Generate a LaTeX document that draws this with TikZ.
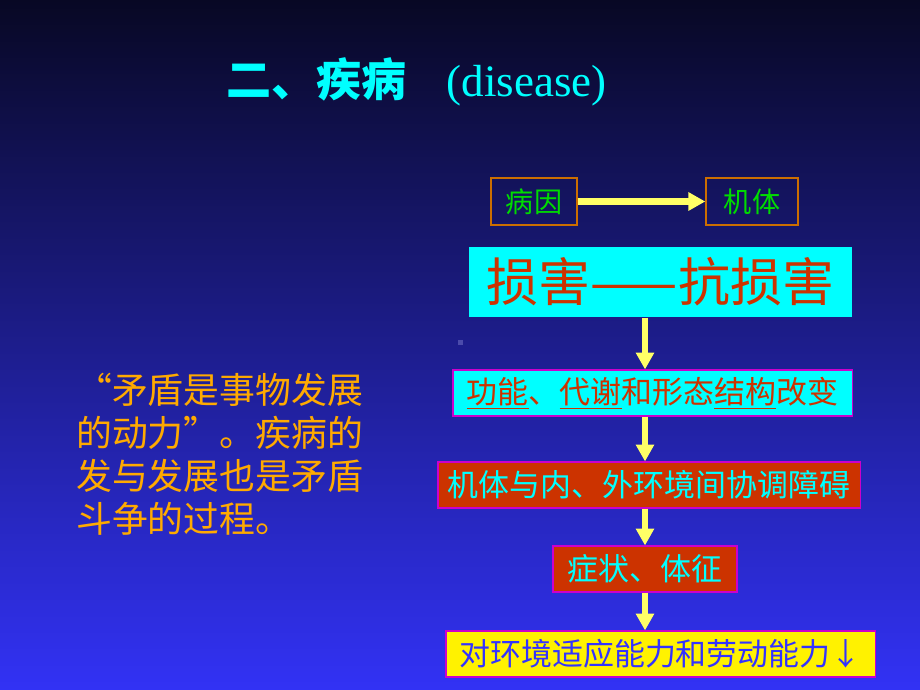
\documentclass[tikz,border=0pt]{standalone}
\usepackage{fontspec}
\setmainfont{Liberation Serif}
\newfontfamily\cjk{Noto Sans CJK SC}
\usepackage{tikz}
\usetikzlibrary{arrows.meta,positioning}
\usepackage{xcolor}
\definecolor{dftop}{RGB}{8,8,36}
\definecolor{dfmid}{RGB}{30,30,150}
\definecolor{dfbottom}{RGB}{50,50,245}
\definecolor{dfcyan}{RGB}{0,255,255}
\definecolor{dfgreen}{RGB}{0,220,0}
\definecolor{dforange}{RGB}{204,110,0}
\definecolor{dfyellow}{RGB}{255,255,102}
\definecolor{dfred}{RGB}{204,51,0}
\definecolor{dfmagenta}{RGB}{204,0,204}
\definecolor{dfblue}{RGB}{51,51,255}
\definecolor{dfgold}{RGB}{255,170,0}
\tikzstyle{arrow} = [line width=4.3pt,-{Triangle[width=12.5pt,length=12pt]},color=dfyellow]
\tikzstyle{causebox} = [rectangle, draw=dforange, line width=1pt, minimum height=1.175cm, inner sep=0pt, text=dfgreen, font=\cjk\fontsize{20}{24}\selectfont]
\tikzstyle{stagebox} = [rectangle, draw=dfmagenta, line width=0.8pt, minimum height=1.15cm, inner sep=0pt, font=\cjk\fontsize{22}{26}\selectfont]

\begin{document}
\begin{tikzpicture}[x=0.025cm, y=-0.025cm]
    \useasboundingbox (0,0) rectangle (920,690);
    % Background
    \shade[top color=dftop, middle color=dfmid, bottom color=dfbottom] (0,0) rectangle (920,690);
    \fill[color=dfmid!80!white] (458,340) rectangle (463,345);

    % Title
    \node[anchor=base west, inner sep=0pt, text=dfcyan, font=\fontsize{32}{36}\selectfont] (title) at (226,97) {{\cjk\bfseries 二、疾病}\hspace{0.9em}(disease)};

    % Cause boxes
    \node[causebox, minimum width=2.15cm] (cause) at (534,201.5) {病因};
    \node[causebox, minimum width=2.3cm] (body) at (752,201.5) {机体};
    \draw[arrow] (cause) -- (body);

    % Stage boxes
    \coordinate (axis) at (645,0);
    \node[stagebox, draw=none, fill=dfcyan, text=dfred, minimum width=9.575cm, minimum height=1.75cm, font=\cjk\fontsize{37}{42}\selectfont] (harm) at (660.5,282) {损害——抗损害};
    \node[stagebox, fill=dfcyan, text=dfred, minimum width=9.975cm] (change) at (652.5,393) {\underline{功能}、\underline{代谢}和形态\underline{结构}改变};
    \node[stagebox, fill=dfred, text=dfcyan, minimum width=10.55cm] (disorder) at (649,485) {机体与内、外环境间协调障碍};
    \node[stagebox, fill=dfred, text=dfcyan, minimum width=4.6cm] (symptom) at (645,569) {症状、体征};
    \node[stagebox, fill=yellow, text=dfblue, minimum width=10.725cm] (ability) at (660.5,654) {对环境适应能力和劳动能力↓};

    % Arrows
    \draw[arrow] (harm.south -| axis) -- (change.north -| axis);
    \draw[arrow] (change.south -| axis) -- (disorder.north -| axis);
    \draw[arrow] (disorder.south -| axis) -- (symptom.north -| axis);
    \draw[arrow] (symptom.south -| axis) -- (ability.north -| axis);

    % Quote
    \node[anchor=north west, inner sep=0pt, align=left, text=dfgold, font=\cjk\fontsize{25.5}{30.5}\selectfont] (quote) at (76,373) {\makebox[1em][r]{“}矛盾是事物发展\\的动力\makebox[1em][l]{”}。疾病的\\发与发展也是矛盾\\斗争的过程。};
\end{tikzpicture}
\end{document}
